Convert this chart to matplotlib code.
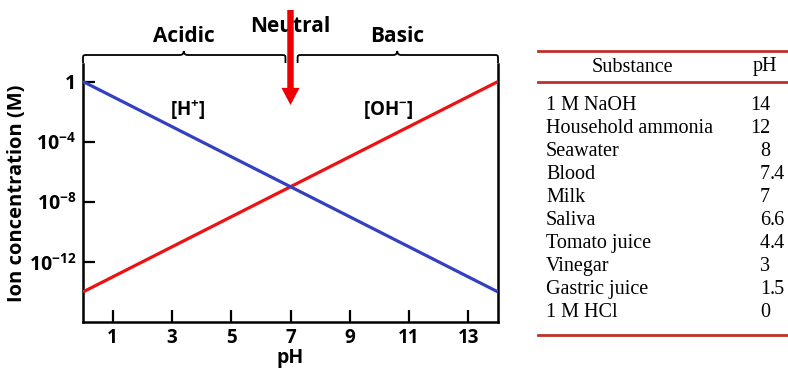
import matplotlib
matplotlib.use("Agg")
import matplotlib.pyplot as plt
import matplotlib.transforms as mtransforms
from matplotlib.path import Path
from matplotlib.patches import PathPatch
from matplotlib.lines import Line2D

# ---------------- data ----------------
ph_range = [0, 14]
h_conc = [1e0, 1e-14]      # [H+]
oh_conc = [1e-14, 1e0]     # [OH-]
x_ticks = [1, 3, 5, 7, 9, 11, 13]
y_ticks = [1e0, 1e-4, 1e-8, 1e-12]
y_tick_labels = ["1", r"$10^{-4}$", r"$10^{-8}$", r"$10^{-12}$"]
region_labels = ["Acidic", "Neutral", "Basic"]
neutral_ph = 7
substances = ["1 M NaOH", "Household ammonia", "Seawater", "Blood", "Milk",
              "Saliva", "Tomato juice", "Vinegar", "Gastric juice", "1 M HCl"]
substance_ph = ["14", "12", "8", "7.4", "7", "6.6", "4.4", "3", "1.5", "0"]

# ---------------- style ----------------
plt.rcParams["font.family"] = ["Open Sans", "DejaVu Sans"]
plt.rcParams["font.weight"] = "bold"
plt.rcParams["mathtext.fontset"] = "custom"
plt.rcParams["mathtext.rm"] = "Open Sans:bold"
plt.rcParams["mathtext.bf"] = "Open Sans:bold"
plt.rcParams["mathtext.it"] = "Open Sans:bold"
plt.rcParams["mathtext.default"] = "regular"

W, H = 788, 368
fig = plt.figure(figsize=(W / 100, H / 100), dpi=100)

def fx(px):
    return px / W

def fy(py):
    return 1 - py / H

ax_left, ax_right, ax_bottom, ax_top = 83, 498, 322, 64
ax = fig.add_axes([fx(ax_left), fy(ax_bottom), fx(ax_right - ax_left),
                   (ax_bottom - ax_top) / H])

BLUE = "#3340c0"
RED = "#ee1111"
ax.plot(ph_range, oh_conc, color=RED, lw=2.3, solid_capstyle="butt", zorder=3)
ax.plot(ph_range, h_conc, color=BLUE, lw=2.3, solid_capstyle="butt", zorder=4)

ax.set_yscale("log")
ax.set_xlim(0, 14)
ax.set_ylim(1e-16, 10 ** (16 / 15 * 1.0 + 0.1))
ax.yaxis.set_major_locator(matplotlib.ticker.FixedLocator(y_ticks))
ax.yaxis.set_minor_locator(matplotlib.ticker.NullLocator())
ax.set_yticklabels(y_tick_labels)
ax.set_xticks(x_ticks)
ax.set_xticklabels([str(t) for t in x_ticks])

ax.spines["top"].set_visible(False)
for s in ["left", "right", "bottom"]:
    ax.spines[s].set_linewidth(1.8)
ax.tick_params(axis="both", direction="in", length=8.5, width=1.6,
               labelsize=13.5, pad=4)
ax.tick_params(axis="y", labelsize=14, pad=5)

ax.set_xlabel("pH", fontsize=14, fontweight="bold", labelpad=0.5)
ax.set_ylabel("Ion concentration (M)", fontsize=14.5, fontweight="bold",
              labelpad=1)

bt = mtransforms.blended_transform_factory(ax.transData, fig.transFigure)

# ion labels
ax.text(3.55, fy(110), r"$[\mathrm{H}^{+}]$", transform=bt,
        ha="center", va="center", fontsize=13.5)
ax.text(10.3, fy(110), r"$[\mathrm{OH}^{-}]$", transform=bt,
        ha="center", va="center", fontsize=13.5)

# braces
px_x = 14 / (ax_right - ax_left)  # data units per pixel in x

def brace(x0, x1, xc):
    y_line, y_end, y_cusp = fy(55), fy(63), fy(51)
    r = 5 * px_x
    rc = 4 * px_x
    dy = 1 / H
    verts = [
        (x0, y_end), (x0, y_line - 4 * dy),
        (x0, y_line), (x0, y_line), (x0 + r, y_line),
        (xc - rc, y_line),
        (xc, y_line), (xc, y_cusp),
        (xc, y_line), (xc + rc, y_line),
        (x1 - r, y_line),
        (x1, y_line), (x1, y_line), (x1, y_line - 4 * dy),
        (x1, y_end),
    ]
    codes = [Path.MOVETO, Path.LINETO,
             Path.CURVE4, Path.CURVE4, Path.CURVE4,
             Path.LINETO,
             Path.CURVE3, Path.CURVE3,
             Path.CURVE3, Path.CURVE3,
             Path.LINETO,
             Path.CURVE4, Path.CURVE4, Path.CURVE4,
             Path.LINETO]
    p = PathPatch(Path(verts, codes), transform=bt, fill=False, lw=1.3,
                  edgecolor="black", clip_on=False, zorder=5)
    ax.add_artist(p)

brace(0, 6.83, 3.4)
brace(7.24, 14, 10.6)

ax.text(3.4, fy(36), region_labels[0], transform=bt, ha="center", va="center",
        fontsize=15)
ax.text(neutral_ph, fy(27), region_labels[1], transform=bt, ha="center",
        va="center", fontsize=15)
ax.text(10.6, fy(36), region_labels[2], transform=bt, ha="center",
        va="center", fontsize=15)

# neutral arrow
ax.annotate("", xy=(neutral_ph, fy(105)), xytext=(neutral_ph, fy(10)),
            xycoords=bt, textcoords=bt,
            arrowprops=dict(arrowstyle="simple,head_length=0.85,head_width=0.9,tail_width=0.32",
                            mutation_scale=14.5, color="#ee0000", lw=0,
                            shrinkA=0, shrinkB=0),
            zorder=10, annotation_clip=False)

# ---------------- table ----------------
TRED = "#c0302a"
for ypix in [50.8, 82, 335]:
    fig.add_artist(Line2D([fx(538), fx(788)], [fy(ypix), fy(ypix)],
                          color=TRED, lw=2.0, transform=fig.transFigure))

serif = ["Liberation Serif", "DejaVu Serif"]
TFS = 14.5
fig.text(fx(632), fy(67), "Substance", family=serif, fontweight="normal",
         fontsize=TFS, ha="center", va="center")
fig.text(fx(753), fy(67), "pH", family=serif, fontweight="normal",
         fontsize=TFS, ha="left", va="center")

row0, dr = 105, 23.1
dec_x = fx(770)
for i, (name, val) in enumerate(zip(substances, substance_ph)):
    y = fy(row0 + i * dr)
    fig.text(fx(546), y, name, family=serif, fontweight="normal",
             fontsize=TFS, ha="left", va="center")
    ip, _, fp = val.partition(".")
    fig.text(dec_x, y, ip, family=serif, fontweight="normal", fontsize=TFS,
             ha="right", va="center")
    if fp:
        fig.text(dec_x, y, "." + fp, family=serif, fontweight="normal",
                 fontsize=TFS, ha="left", va="center")

fig.savefig("out.png", dpi=100)
